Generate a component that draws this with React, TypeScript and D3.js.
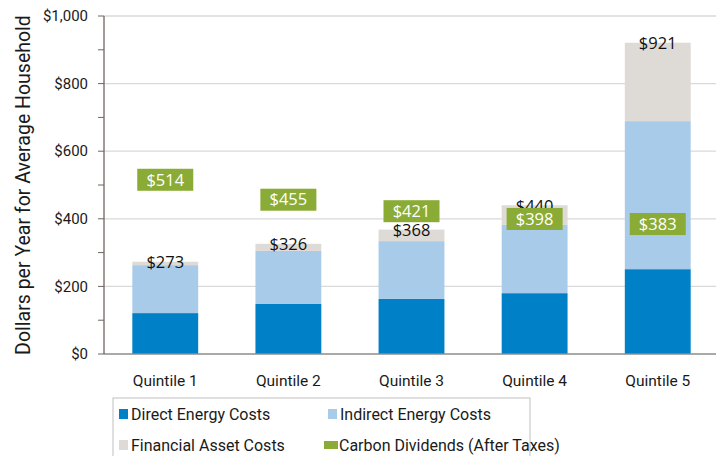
import React from "react";
import * as d3 from "d3";

const quintiles = ["Quintile 1", "Quintile 2", "Quintile 3", "Quintile 4", "Quintile 5"];
const directCosts = [121, 148, 163, 180, 251];
const indirectCosts = [142, 157, 171, 202, 438];
const financialCosts = [10, 21, 34, 58, 232];
const totals = [273, 326, 368, 440, 921];
const dividends = [514, 455, 421, 398, 383];
const yTicks = [0, 200, 400, 600, 800, 1000];
const yMinor = [100, 300, 500, 700, 900];

const seriesNames = ["Direct Energy Costs", "Indirect Energy Costs", "Financial Asset Costs"];
const colors = ["#0080c6", "#a9cbea", "#dedad5"];
const green = "#8aab35";

const W = 716;
const H = 456;
const marginLeft = 104;
const marginTop = 16;
const plotBottom = 354;
const plotRight = 719;
const labelFont = "Roboto, sans-serif";
const dataFont = "'Open Sans', sans-serif";

export default function App() {
  const x = d3.scaleBand<string>().domain(quintiles).range([marginLeft, plotRight]).paddingInner(0.465).paddingOuter(0.23);
  const y = d3.scaleLinear().domain([0, 1000]).range([plotBottom, marginTop]);

  const rows = quintiles.map((q, i) => ({
    q,
    direct: directCosts[i],
    indirect: indirectCosts[i],
    financial: financialCosts[i],
  }));
  const stack = d3.stack<any>().keys(["direct", "indirect", "financial"])(rows);
  const fmt = (v: number) => "$" + d3.format(",")(v);

  return (
    <svg width={W} height={H} style={{ position: "absolute", left: 0, top: 0 }}>
      <rect width={W} height={H} fill="#fff" />
      {yTicks.slice(1).map((t) => (
        <line key={t} x1={marginLeft} x2={W} y1={y(t)} y2={y(t)} stroke="#d9d9d9" strokeWidth={1.3} />
      ))}
      {stack.map((s, si) => (
        <g key={si} fill={colors[si]}>
          {s.map((d, i) => (
            <rect key={i} x={x(quintiles[i])} width={x.bandwidth()} y={y(d[1])} height={y(d[0]) - y(d[1])} />
          ))}
        </g>
      ))}
      <line x1={marginLeft} x2={W} y1={plotBottom} y2={plotBottom} stroke="#8c8c8c" strokeWidth={1.5} />
      <line x1={marginLeft} x2={marginLeft} y1={marginTop} y2={plotBottom} stroke="#6e6461" strokeWidth={1.3} />
      {yTicks.concat(yMinor).map((t) => (
        <line key={"t" + t} x1={marginLeft - 6} x2={marginLeft} y1={y(t)} y2={y(t)} stroke="#6e6461" strokeWidth={1} />
      ))}
      {yTicks.map((t) => (
        <text key={"l" + t} x={88} y={y(t)} dy="0.35em" textAnchor="end" fontFamily={labelFont} fontSize={15} fill="#1a1a1a">
          {fmt(t)}
        </text>
      ))}
      <text
        transform={`translate(23,${(marginTop + plotBottom) / 2}) rotate(-90)`}
        textAnchor="middle"
        dy="0.35em"
        fontFamily={labelFont}
        fontSize={19.5}
        fill="#1a1a1a"
      >
        Dollars per Year for Average Household
      </text>
      {quintiles.map((q) => (
        <text key={q} x={x(q)! + x.bandwidth() / 2} y={381} dy="0.35em" textAnchor="middle" fontFamily={labelFont} fontSize={15.5} fill="#1a1a1a">
          {q}
        </text>
      ))}
      {totals.map((t, i) => (
        <text key={"tot" + i} x={x(quintiles[i])! + x.bandwidth() / 2} y={y(t) + 0.5} dy="0.35em" textAnchor="middle" fontFamily={dataFont} fontSize={16.5} fill="#111">
          {fmt(t)}
        </text>
      ))}
      {dividends.map((v, i) => {
        const cx = x(quintiles[i])! + x.bandwidth() / 2;
        return (
          <g key={"div" + i}>
            <rect x={cx - 28} y={y(v) - 11.5} width={56} height={22} fill={green} />
            <text x={cx} y={y(v) - 0.5} dy="0.35em" textAnchor="middle" fontFamily={dataFont} fontSize={16.5} fill="#fff">
              {fmt(v)}
            </text>
          </g>
        );
      })}
      <rect x={113} y={398} width={417} height={70} fill="#fff" stroke="#bfbfbf" strokeWidth={1} />
      {[0, 1, 2].map((si) => {
        const lx = si === 1 ? 328 : 119;
        const ly = si === 2 ? 445 : 414;
        return (
          <g key={"lg" + si}>
            <rect x={lx} y={ly - 5} width={9} height={10} fill={colors[si]} />
            <text x={lx + 12} y={ly} dy="0.35em" fontFamily={labelFont} fontSize={16} fill="#1a1a1a">
              {seriesNames[si]}
            </text>
          </g>
        );
      })}
      <rect x={324} y={441} width={14} height={8} fill={green} />
      <text x={339} y={445} dy="0.35em" fontFamily={labelFont} fontSize={16} fill="#1a1a1a">
        Carbon Dividends (After Taxes)
      </text>
    </svg>
  );
}
